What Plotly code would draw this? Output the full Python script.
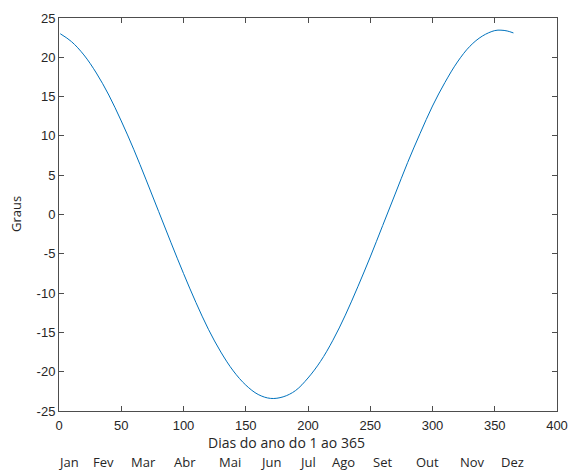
import plotly.graph_objects as go

# Day of year and solar declination (degrees)
dias = [1, 10, 20, 30, 40, 50, 60, 70, 80, 90, 100, 110, 120, 130, 140, 150,
        160, 170, 180, 190, 200, 210, 220, 230, 240, 250, 260, 270, 280, 290,
        300, 310, 320, 330, 340, 350, 355, 360, 365]
graus = [23.0, 22.0, 20.3, 18.0, 15.2, 11.9, 8.3, 4.4, 0.4, -3.6, -7.5, -11.2,
         -14.6, -17.5, -19.9, -21.7, -22.9, -23.4, -23.2, -22.4, -20.8, -18.7,
         -16.0, -12.8, -9.2, -5.4, -1.4, 2.6, 6.6, 10.3, 13.8, 16.8, 19.4, 21.4,
         22.7, 23.4, 23.45, 23.35, 23.1]

meses = ["Jan", "Fev", "Mar", "Abr", "Mai", "Jun",
         "Jul", "Ago", "Set", "Out", "Nov", "Dez"]
mes_px = [68, 103, 143, 185, 230, 270, 307, 343, 382, 427, 472, 512]

x_ticks = [0, 50, 100, 150, 200, 250, 300, 350, 400]
y_ticks = [25, 20, 15, 10, 5, 0, -5, -10, -15, -20, -25]

FONT = "Liberation Sans, Arial, sans-serif"
LABEL_FONT = "Open Sans, Liberation Sans, sans-serif"
L, R, T, B = 59, 557, 18, 411

fig = go.Figure()
fig.add_trace(go.Scatter(
    x=dias, y=graus, mode="lines",
    line=dict(color="#0072BD", width=1, shape="spline"),
    showlegend=False, hoverinfo="skip",
))

axis_common = dict(
    showgrid=False, zeroline=False, showline=True, linecolor="#4d4d4d",
    linewidth=1, mirror="ticks", ticks="inside", ticklen=5,
    tickcolor="#4d4d4d", tickfont=dict(family=FONT, size=13, color="#262626"),
    automargin=False,
)
fig.update_xaxes(range=[0, 400], tickvals=x_ticks,
                 ticktext=[str(v) for v in x_ticks], ticklabelstandoff=2,
                 **axis_common)
# plain hyphen for negative labels
fig.update_yaxes(range=[-25, 25], tickvals=y_ticks,
                 ticktext=[str(v) for v in y_ticks], **axis_common)


def px_x(px):
    return (px - L) / (R - L)


def px_y(py):
    return (B - py) / (B - T)


def label(text, px, py, size=13, angle=0):
    return dict(text=text, x=px_x(px), y=px_y(py), textangle=angle,
                xref="paper", yref="paper", showarrow=False,
                xanchor="center", yanchor="middle",
                font=dict(family=LABEL_FONT, size=size, color="#262626"))


annotations = [
    label("Dias do ano do 1 ao 365", 286, 442, size=14),
    label("Graus", 16, 214, angle=-90),
]
for m, p in zip(meses, mes_px):
    annotations.append(label(m, p, 462))

fig.update_layout(
    width=568, height=470,
    margin=dict(l=L, r=568 - R, t=T, b=470 - B, autoexpand=False),
    plot_bgcolor="white", paper_bgcolor="white",
    annotations=annotations,
)

fig.write_html("out.html")
